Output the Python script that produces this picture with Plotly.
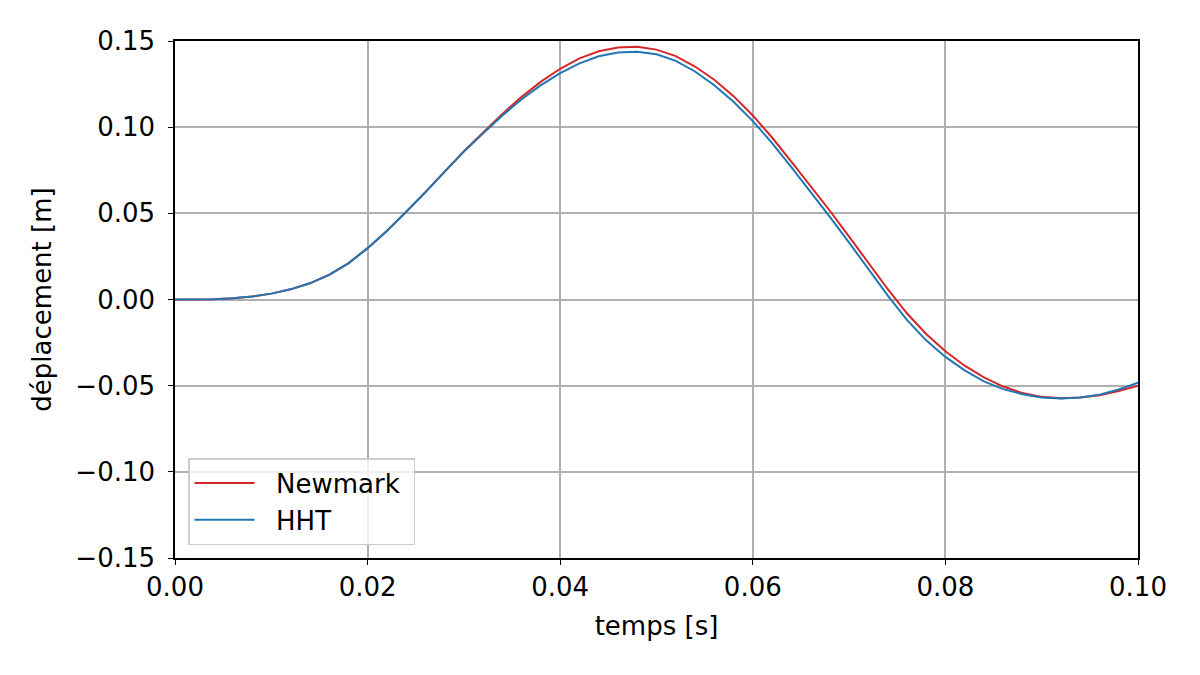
import plotly.graph_objects as go

# time samples [s]
t = [round(i * 0.002, 3) for i in range(51)]

newmark = [0.0, 0.00002, 0.0002, 0.0007, 0.0017, 0.0034, 0.0059, 0.0094, 0.0143, 0.0210,
           0.0298, 0.0398, 0.0507, 0.0623, 0.0743, 0.0860, 0.0970, 0.1077, 0.1176, 0.1264,
           0.1339, 0.1399, 0.1440, 0.1462, 0.1466, 0.1450, 0.1412, 0.1352, 0.1275, 0.1180,
           0.1068, 0.0940, 0.0800, 0.0660, 0.0515, 0.0365, 0.0213, 0.0061, -0.0080, -0.0200,
           -0.0300, -0.0384, -0.0452, -0.0505, -0.0543, -0.0565, -0.0573, -0.0569, -0.0555, -0.0531,
           -0.0500]

hht = [0.0, 0.00002, 0.0002, 0.0007, 0.0017, 0.0034, 0.0059, 0.0094, 0.0143, 0.0210,
       0.0298, 0.0398, 0.0507, 0.0622, 0.0742, 0.0858, 0.0964, 0.1068, 0.1162, 0.1244,
       0.1314, 0.1370, 0.1411, 0.1433, 0.1437, 0.1423, 0.1385, 0.1323, 0.1243, 0.1147,
       0.1035, 0.0908, 0.0768, 0.0626, 0.0480, 0.0330, 0.0177, 0.0024, -0.0118, -0.0237,
       -0.0333, -0.0411, -0.0475, -0.0520, -0.0550, -0.0568, -0.0574, -0.0569, -0.0552, -0.0522,
       -0.0483]

series_names = ["Newmark", "HHT"]

x_ticks = [0.0, 0.02, 0.04, 0.06, 0.08, 0.10]
x_ticklabels = ["0.00", "0.02", "0.04", "0.06", "0.08", "0.10"]
y_ticks = [-0.15, -0.10, -0.05, 0.0, 0.05, 0.10, 0.15]
y_ticklabels = ["\u22120.15", "\u22120.10", "\u22120.05", "0.00", "0.05", "0.10", "0.15"]

FONT = "DejaVu Sans"
FS = 26
NB = "\u00a0"

fig = go.Figure()
fig.add_trace(go.Scatter(x=t, y=newmark, mode="lines", name=NB * 2 + series_names[0] + NB,
                         line=dict(color="#d62728", width=2)))
fig.add_trace(go.Scatter(x=t, y=hht, mode="lines", name=NB * 2 + series_names[1],
                         line=dict(color="#1f77b4", width=2)))

axis_common = dict(
    showline=True, linecolor="black", linewidth=1.5, mirror=True,
    ticks="outside", ticklen=5, tickwidth=1.2, tickcolor="black",
    showgrid=True, gridcolor="#b0b0b0", gridwidth=1.5,
    zeroline=False, automargin=False,
    tickfont=dict(family=FONT, size=FS, color="black"),
)

fig.update_xaxes(range=[0, 0.1], tickvals=x_ticks, ticktext=x_ticklabels,
                 title=dict(text="temps [s]", font=dict(family=FONT, size=FS, color="black"),
                            standoff=16),
                 **axis_common)
fig.update_yaxes(range=[-0.15, 0.15], tickvals=y_ticks, ticktext=y_ticklabels,
                 ticklabelstandoff=8,
                 title=dict(text="déplacement [m]", font=dict(family=FONT, size=FS, color="black"),
                            standoff=16),
                 **axis_common)

fig.update_layout(
    width=1200, height=675,
    margin=dict(l=167, r=70, t=33, b=125),
    paper_bgcolor="white", plot_bgcolor="white",
    font=dict(family=FONT, size=FS, color="black"),
    legend=dict(x=0.0135, y=0.025, xanchor="left", yanchor="bottom",
                bgcolor="rgba(255,255,255,0.8)", bordercolor="#cccccc", borderwidth=1.5,
                font=dict(family=FONT, size=FS, color="black"),
                itemwidth=60, tracegroupgap=0),
    showlegend=True,
)

fig.write_html("out.html")
